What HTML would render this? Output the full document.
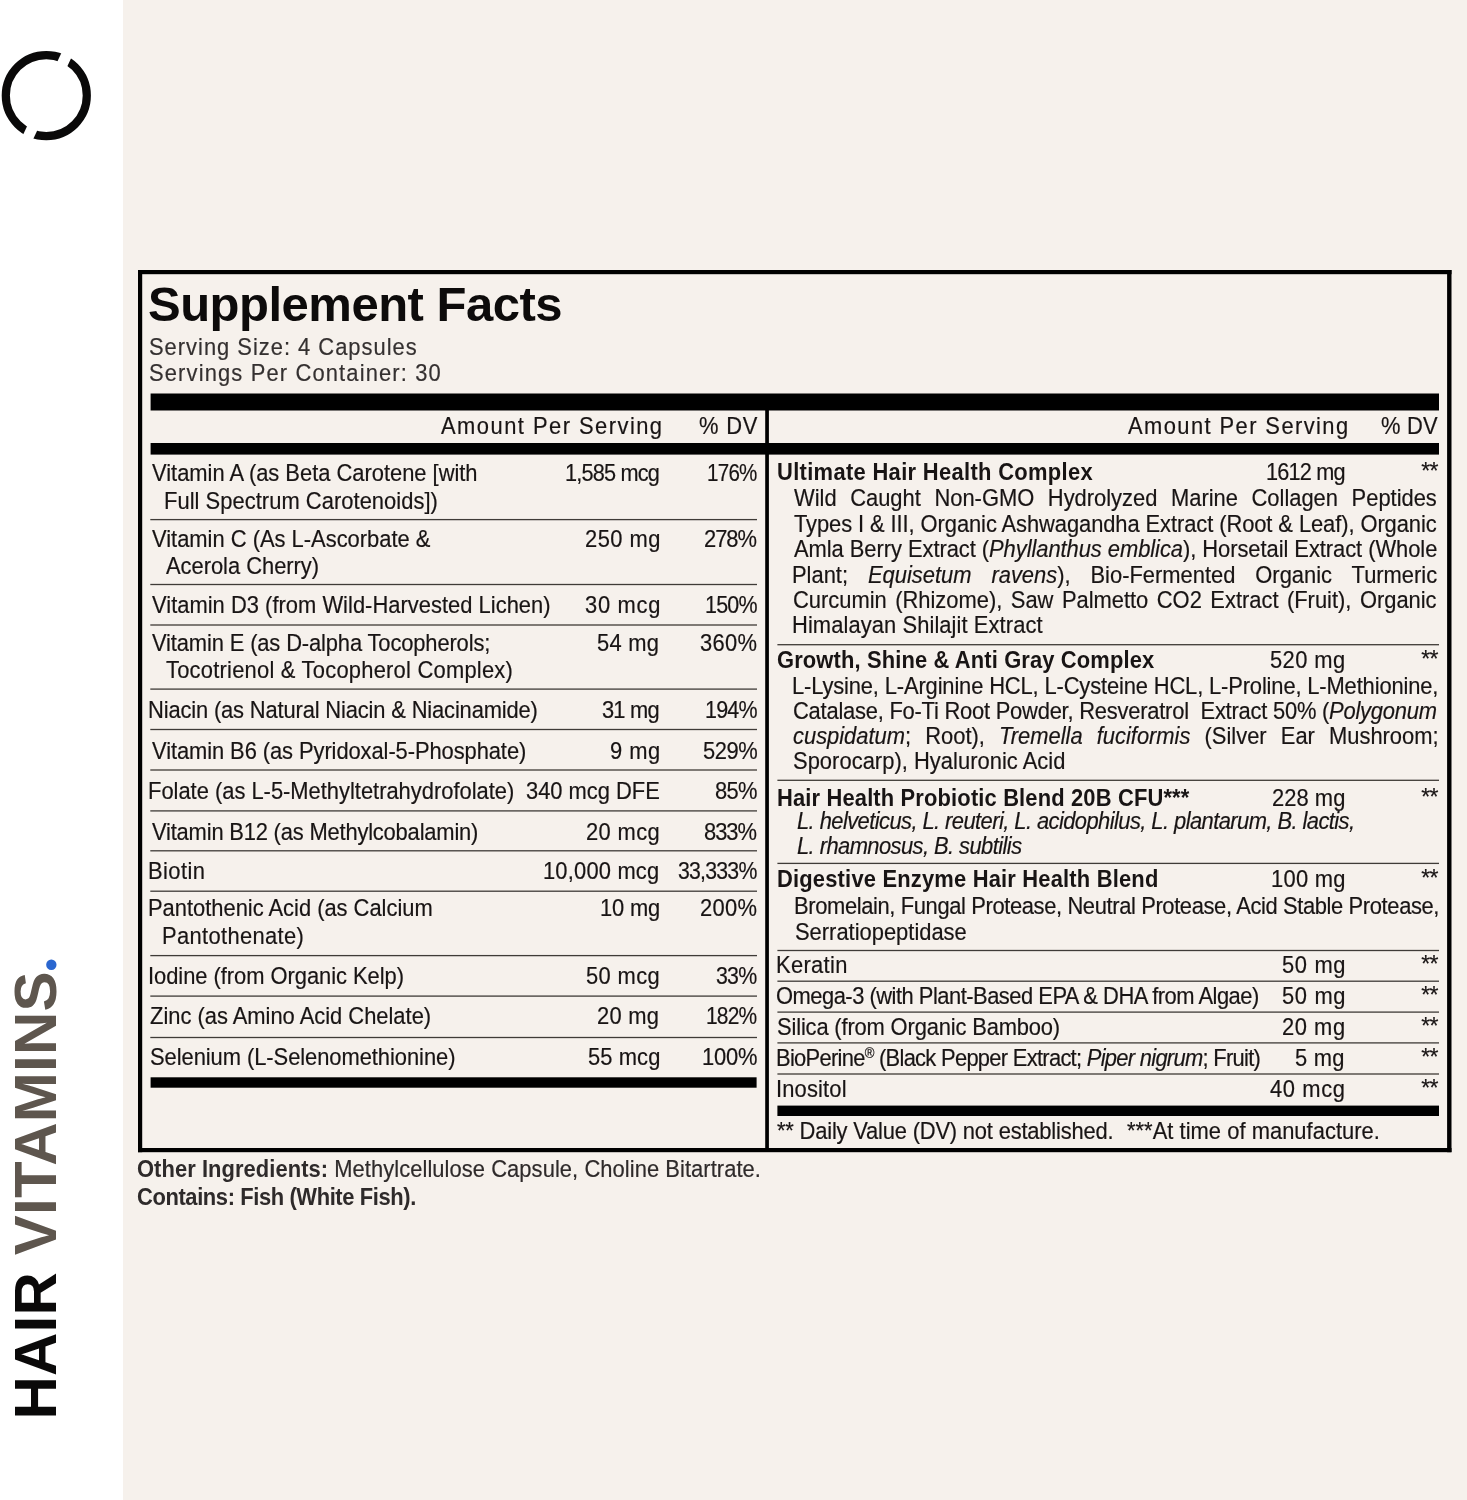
<!DOCTYPE html>
<html><head><meta charset="utf-8"><title>Supplement Facts</title>
<style>
html,body{margin:0;padding:0}
body{width:1467px;height:1500px;position:relative;overflow:hidden;background:#f6f1ec;}
.side{position:absolute;left:0;top:0;width:123px;height:1500px;background:#fff}
.t{position:absolute;white-space:nowrap}
.r{position:absolute}
.layer{position:absolute;left:0;top:0;width:1467px;height:1500px;will-change:transform}
.vt{position:absolute;left:0;top:0;font:700 60px/1 'Liberation Sans', Arial, sans-serif;color:#0a0909;white-space:nowrap;transform-origin:0 0;
 transform:translate(5.5px,1419.5px) rotate(-90deg);letter-spacing:0.2px}
i{font-style:italic}
b{font-weight:700;-webkit-text-stroke-width:0}
</style></head><body>
<div class="side"></div>
<svg class="r" style="left:0;top:49px" width="94" height="94" viewBox="0 0 94 94">
<circle cx="46.3" cy="46.6" r="40.5" fill="none" stroke="#0a0909" stroke-width="8.2"/>
<rect x="41.9" y="-5" width="11" height="104" fill="#fff" transform="rotate(25.1 47.4 46.8)"/>
</svg><div class="vt">HAIR <span style="color:#5e564e">VITAMINS</span><span style="color:#2a66cf;font-family:'Liberation Serif',serif;font-size:64px;line-height:0;margin-left:-1.5px">.</span></div>

<svg class="r" style="left:0;top:0" width="1467" height="1500" viewBox="0 0 1467 1500"><rect x="138" y="270" width="1313.5" height="4.2" fill="#000"/><rect x="138" y="1148" width="1313.5" height="4.2" fill="#000"/><rect x="138" y="270" width="4.2" height="882.2" fill="#000"/><rect x="1447.1" y="270" width="4.4" height="882.2" fill="#000"/><rect x="150.6" y="393.5" width="1288.4" height="17.0" fill="#000"/><rect x="150.6" y="443" width="1288.4" height="11.6" fill="#000"/><rect x="765.2" y="410" width="3.7" height="738" fill="#000"/><rect x="150.6" y="1077.3" width="606.0" height="10.4" fill="#000"/><rect x="777.4" y="1105.6" width="661.6" height="10.4" fill="#000"/><rect x="150.3" y="518.95" width="606.7" height="1.3" fill="#3f3b37"/><rect x="150.3" y="583.85" width="606.7" height="1.3" fill="#3f3b37"/><rect x="150.3" y="624.35" width="606.7" height="1.3" fill="#3f3b37"/><rect x="150.3" y="688.45" width="606.7" height="1.3" fill="#3f3b37"/><rect x="150.3" y="728.85" width="606.7" height="1.3" fill="#3f3b37"/><rect x="150.3" y="769.35" width="606.7" height="1.3" fill="#3f3b37"/><rect x="150.3" y="810.25" width="606.7" height="1.3" fill="#3f3b37"/><rect x="150.3" y="850.15" width="606.7" height="1.3" fill="#3f3b37"/><rect x="150.3" y="890.55" width="606.7" height="1.3" fill="#3f3b37"/><rect x="150.3" y="954.95" width="606.7" height="1.3" fill="#3f3b37"/><rect x="150.3" y="995.45" width="606.7" height="1.3" fill="#3f3b37"/><rect x="150.3" y="1036.85" width="606.7" height="1.3" fill="#3f3b37"/><rect x="777.4" y="644.05" width="661.6" height="1.3" fill="#3f3b37"/><rect x="777.4" y="779.65" width="661.6" height="1.3" fill="#3f3b37"/><rect x="777.4" y="862.75" width="661.6" height="1.3" fill="#3f3b37"/><rect x="777.4" y="949.85" width="661.6" height="1.3" fill="#3f3b37"/><rect x="777.4" y="980.55" width="661.6" height="1.3" fill="#3f3b37"/><rect x="777.4" y="1011.45" width="661.6" height="1.3" fill="#3f3b37"/><rect x="777.4" y="1042.25" width="661.6" height="1.3" fill="#3f3b37"/><rect x="777.4" y="1073.35" width="661.6" height="1.3" fill="#3f3b37"/></svg>
<div class="layer">
<div class="t" style="left:148.00px;top:280px;font:normal 700 49px/1 'Liberation Sans', Arial, sans-serif;color:#0d0b0b;letter-spacing:-0.500px;">Supplement Facts</div>
<div class="t" style="left:149.10px;top:335px;font:normal 400 24.5px/1 'Liberation Sans', Arial, sans-serif;color:#343030;-webkit-text-stroke-width:0.2px;letter-spacing:1.100px;transform:scaleX(0.8950);transform-origin:0 0;">Serving Size: 4 Capsules</div>
<div class="t" style="left:149.10px;top:361px;font:normal 400 24.5px/1 'Liberation Sans', Arial, sans-serif;color:#343030;-webkit-text-stroke-width:0.2px;letter-spacing:1.274px;transform:scaleX(0.8950);transform-origin:0 0;">Servings Per Container: 30</div>
<div class="t" style="left:440.90px;top:414px;font:normal 400 24.5px/1 'Liberation Sans', Arial, sans-serif;color:#181414;-webkit-text-stroke-width:0.2px;letter-spacing:1.633px;transform:scaleX(0.8950);transform-origin:0 0;">Amount Per Serving</div>
<div class="t" style="left:699.00px;top:414px;font:normal 400 24.5px/1 'Liberation Sans', Arial, sans-serif;color:#181414;-webkit-text-stroke-width:0.2px;letter-spacing:0.900px;transform:scaleX(0.8950);transform-origin:0 0;">% DV</div>
<div class="t" style="left:1128.00px;top:414px;font:normal 400 24.5px/1 'Liberation Sans', Arial, sans-serif;color:#181414;-webkit-text-stroke-width:0.2px;letter-spacing:1.573px;transform:scaleX(0.8950);transform-origin:0 0;">Amount Per Serving</div>
<div class="t" style="left:1380.50px;top:414px;font:normal 400 24.5px/1 'Liberation Sans', Arial, sans-serif;color:#181414;-webkit-text-stroke-width:0.2px;letter-spacing:0.200px;transform:scaleX(0.8950);transform-origin:0 0;">% DV</div>
<div class="t" style="left:151.60px;top:461px;font:normal 400 24.5px/1 'Liberation Sans', Arial, sans-serif;color:#181414;-webkit-text-stroke-width:0.2px;letter-spacing:-0.024px;transform:scaleX(0.8950);transform-origin:0 0;">Vitamin A (as Beta Carotene [with</div>
<div class="t" style="left:164.10px;top:489px;font:normal 400 24.5px/1 'Liberation Sans', Arial, sans-serif;color:#181414;-webkit-text-stroke-width:0.2px;letter-spacing:0.039px;transform:scaleX(0.8950);transform-origin:0 0;">Full Spectrum Carotenoids])</div>
<div class="t" style="left:151.60px;top:527px;font:normal 400 24.5px/1 'Liberation Sans', Arial, sans-serif;color:#181414;-webkit-text-stroke-width:0.2px;letter-spacing:-0.009px;transform:scaleX(0.8950);transform-origin:0 0;">Vitamin C (As L-Ascorbate &amp;</div>
<div class="t" style="left:166.10px;top:554px;font:normal 400 24.5px/1 'Liberation Sans', Arial, sans-serif;color:#181414;-webkit-text-stroke-width:0.2px;letter-spacing:-0.038px;transform:scaleX(0.8950);transform-origin:0 0;">Acerola Cherry)</div>
<div class="t" style="left:151.60px;top:593px;font:normal 400 24.5px/1 'Liberation Sans', Arial, sans-serif;color:#181414;-webkit-text-stroke-width:0.2px;letter-spacing:0.015px;transform:scaleX(0.8950);transform-origin:0 0;">Vitamin D3 (from Wild-Harvested Lichen)</div>
<div class="t" style="left:151.60px;top:631px;font:normal 400 24.5px/1 'Liberation Sans', Arial, sans-serif;color:#181414;-webkit-text-stroke-width:0.2px;letter-spacing:-0.155px;transform:scaleX(0.8950);transform-origin:0 0;">Vitamin E (as D-alpha Tocopherols;</div>
<div class="t" style="left:166.10px;top:658px;font:normal 400 24.5px/1 'Liberation Sans', Arial, sans-serif;color:#181414;-webkit-text-stroke-width:0.2px;letter-spacing:0.252px;transform:scaleX(0.8950);transform-origin:0 0;">Tocotrienol &amp; Tocopherol Complex)</div>
<div class="t" style="left:148.10px;top:698px;font:normal 400 24.5px/1 'Liberation Sans', Arial, sans-serif;color:#181414;-webkit-text-stroke-width:0.2px;letter-spacing:-0.177px;transform:scaleX(0.8950);transform-origin:0 0;">Niacin (as Natural Niacin &amp; Niacinamide)</div>
<div class="t" style="left:151.60px;top:739px;font:normal 400 24.5px/1 'Liberation Sans', Arial, sans-serif;color:#181414;-webkit-text-stroke-width:0.2px;letter-spacing:-0.097px;transform:scaleX(0.8950);transform-origin:0 0;">Vitamin B6 (as Pyridoxal-5-Phosphate)</div>
<div class="t" style="left:148.10px;top:779px;font:normal 400 24.5px/1 'Liberation Sans', Arial, sans-serif;color:#181414;-webkit-text-stroke-width:0.2px;letter-spacing:-0.018px;transform:scaleX(0.8950);transform-origin:0 0;">Folate (as L-5-Methyltetrahydrofolate)</div>
<div class="t" style="left:151.60px;top:820px;font:normal 400 24.5px/1 'Liberation Sans', Arial, sans-serif;color:#181414;-webkit-text-stroke-width:0.2px;letter-spacing:-0.214px;transform:scaleX(0.8950);transform-origin:0 0;">Vitamin B12 (as Methylcobalamin)</div>
<div class="t" style="left:148.10px;top:859px;font:normal 400 24.5px/1 'Liberation Sans', Arial, sans-serif;color:#181414;-webkit-text-stroke-width:0.2px;letter-spacing:0.475px;transform:scaleX(0.8950);transform-origin:0 0;">Biotin</div>
<div class="t" style="left:148.10px;top:896px;font:normal 400 24.5px/1 'Liberation Sans', Arial, sans-serif;color:#181414;-webkit-text-stroke-width:0.2px;letter-spacing:-0.021px;transform:scaleX(0.8950);transform-origin:0 0;">Pantothenic Acid (as Calcium</div>
<div class="t" style="left:161.90px;top:924px;font:normal 400 24.5px/1 'Liberation Sans', Arial, sans-serif;color:#181414;-webkit-text-stroke-width:0.2px;letter-spacing:0.373px;transform:scaleX(0.8950);transform-origin:0 0;">Pantothenate)</div>
<div class="t" style="left:148.10px;top:964px;font:normal 400 24.5px/1 'Liberation Sans', Arial, sans-serif;color:#181414;-webkit-text-stroke-width:0.2px;letter-spacing:-0.050px;transform:scaleX(0.8950);transform-origin:0 0;">Iodine (from Organic Kelp)</div>
<div class="t" style="left:149.50px;top:1004px;font:normal 400 24.5px/1 'Liberation Sans', Arial, sans-serif;color:#181414;-webkit-text-stroke-width:0.2px;letter-spacing:-0.017px;transform:scaleX(0.8950);transform-origin:0 0;">Zinc (as Amino Acid Chelate)</div>
<div class="t" style="left:149.50px;top:1045px;font:normal 400 24.5px/1 'Liberation Sans', Arial, sans-serif;color:#181414;-webkit-text-stroke-width:0.2px;letter-spacing:-0.068px;transform:scaleX(0.8950);transform-origin:0 0;">Selenium (L-Selenomethionine)</div>
<div class="t" style="left:564.50px;top:461px;font:normal 400 24.5px/1 'Liberation Sans', Arial, sans-serif;color:#181414;-webkit-text-stroke-width:0.2px;letter-spacing:-0.900px;transform:scaleX(0.8853);transform-origin:0 0;">1,585 mcg</div>
<div class="t" style="left:584.70px;top:527px;font:normal 400 24.5px/1 'Liberation Sans', Arial, sans-serif;color:#181414;-webkit-text-stroke-width:0.2px;letter-spacing:0.525px;transform:scaleX(0.8950);transform-origin:0 0;">250 mg</div>
<div class="t" style="left:584.70px;top:593px;font:normal 400 24.5px/1 'Liberation Sans', Arial, sans-serif;color:#181414;-webkit-text-stroke-width:0.2px;letter-spacing:0.775px;transform:scaleX(0.8950);transform-origin:0 0;">30 mcg</div>
<div class="t" style="left:597.10px;top:631px;font:normal 400 24.5px/1 'Liberation Sans', Arial, sans-serif;color:#181414;-webkit-text-stroke-width:0.2px;letter-spacing:0.300px;transform:scaleX(0.8950);transform-origin:0 0;">54 mg</div>
<div class="t" style="left:602.00px;top:698px;font:normal 400 24.5px/1 'Liberation Sans', Arial, sans-serif;color:#181414;-webkit-text-stroke-width:0.2px;letter-spacing:-0.900px;transform:scaleX(0.8938);transform-origin:0 0;">31 mg</div>
<div class="t" style="left:609.90px;top:739px;font:normal 400 24.5px/1 'Liberation Sans', Arial, sans-serif;color:#181414;-webkit-text-stroke-width:0.2px;letter-spacing:0.500px;transform:scaleX(0.8950);transform-origin:0 0;">9 mg</div>
<div class="t" style="left:526.20px;top:779px;font:normal 400 24.5px/1 'Liberation Sans', Arial, sans-serif;color:#181414;-webkit-text-stroke-width:0.2px;letter-spacing:-0.022px;transform:scaleX(0.8950);transform-origin:0 0;">340 mcg DFE</div>
<div class="t" style="left:585.50px;top:820px;font:normal 400 24.5px/1 'Liberation Sans', Arial, sans-serif;color:#181414;-webkit-text-stroke-width:0.2px;letter-spacing:0.425px;transform:scaleX(0.8950);transform-origin:0 0;">20 mcg</div>
<div class="t" style="left:543.20px;top:859px;font:normal 400 24.5px/1 'Liberation Sans', Arial, sans-serif;color:#181414;-webkit-text-stroke-width:0.2px;letter-spacing:0.200px;transform:scaleX(0.8950);transform-origin:0 0;">10,000 mcg</div>
<div class="t" style="left:599.60px;top:896px;font:normal 400 24.5px/1 'Liberation Sans', Arial, sans-serif;color:#181414;-webkit-text-stroke-width:0.2px;letter-spacing:-0.200px;transform:scaleX(0.8950);transform-origin:0 0;">10 mg</div>
<div class="t" style="left:585.50px;top:964px;font:normal 400 24.5px/1 'Liberation Sans', Arial, sans-serif;color:#181414;-webkit-text-stroke-width:0.2px;letter-spacing:0.425px;transform:scaleX(0.8950);transform-origin:0 0;">50 mcg</div>
<div class="t" style="left:597.10px;top:1004px;font:normal 400 24.5px/1 'Liberation Sans', Arial, sans-serif;color:#181414;-webkit-text-stroke-width:0.2px;letter-spacing:0.300px;transform:scaleX(0.8950);transform-origin:0 0;">20 mg</div>
<div class="t" style="left:587.60px;top:1045px;font:normal 400 24.5px/1 'Liberation Sans', Arial, sans-serif;color:#181414;-webkit-text-stroke-width:0.2px;letter-spacing:0.100px;transform:scaleX(0.8950);transform-origin:0 0;">55 mcg</div>
<div class="t" style="left:707.00px;top:461px;font:normal 400 24.5px/1 'Liberation Sans', Arial, sans-serif;color:#181414;-webkit-text-stroke-width:0.2px;letter-spacing:-0.900px;transform:scaleX(0.8399);transform-origin:0 0;">176%</div>
<div class="t" style="left:703.90px;top:527px;font:normal 400 24.5px/1 'Liberation Sans', Arial, sans-serif;color:#181414;-webkit-text-stroke-width:0.2px;letter-spacing:-1.167px;transform:scaleX(0.8950);transform-origin:0 0;">278%</div>
<div class="t" style="left:705.00px;top:593px;font:normal 400 24.5px/1 'Liberation Sans', Arial, sans-serif;color:#181414;-webkit-text-stroke-width:0.2px;letter-spacing:-0.900px;transform:scaleX(0.8755);transform-origin:0 0;">150%</div>
<div class="t" style="left:700.40px;top:631px;font:normal 400 24.5px/1 'Liberation Sans', Arial, sans-serif;color:#181414;-webkit-text-stroke-width:0.2px;letter-spacing:0.333px;transform:scaleX(0.8950);transform-origin:0 0;">360%</div>
<div class="t" style="left:705.00px;top:698px;font:normal 400 24.5px/1 'Liberation Sans', Arial, sans-serif;color:#181414;-webkit-text-stroke-width:0.2px;letter-spacing:-0.900px;transform:scaleX(0.8755);transform-origin:0 0;">194%</div>
<div class="t" style="left:702.90px;top:739px;font:normal 400 24.5px/1 'Liberation Sans', Arial, sans-serif;color:#181414;-webkit-text-stroke-width:0.2px;letter-spacing:-0.500px;transform:scaleX(0.8950);transform-origin:0 0;">529%</div>
<div class="t" style="left:714.90px;top:779px;font:normal 400 24.5px/1 'Liberation Sans', Arial, sans-serif;color:#181414;-webkit-text-stroke-width:0.2px;letter-spacing:-0.750px;transform:scaleX(0.8950);transform-origin:0 0;">85%</div>
<div class="t" style="left:703.90px;top:820px;font:normal 400 24.5px/1 'Liberation Sans', Arial, sans-serif;color:#181414;-webkit-text-stroke-width:0.2px;letter-spacing:-1.167px;transform:scaleX(0.8950);transform-origin:0 0;">833%</div>
<div class="t" style="left:677.70px;top:859px;font:normal 400 24.5px/1 'Liberation Sans', Arial, sans-serif;color:#181414;-webkit-text-stroke-width:0.2px;letter-spacing:-0.900px;transform:scaleX(0.8684);transform-origin:0 0;">33,333%</div>
<div class="t" style="left:700.40px;top:896px;font:normal 400 24.5px/1 'Liberation Sans', Arial, sans-serif;color:#181414;-webkit-text-stroke-width:0.2px;letter-spacing:0.333px;transform:scaleX(0.8950);transform-origin:0 0;">200%</div>
<div class="t" style="left:715.70px;top:964px;font:normal 400 24.5px/1 'Liberation Sans', Arial, sans-serif;color:#181414;-webkit-text-stroke-width:0.2px;letter-spacing:-0.900px;transform:scaleX(0.8707);transform-origin:0 0;">33%</div>
<div class="t" style="left:706.40px;top:1004px;font:normal 400 24.5px/1 'Liberation Sans', Arial, sans-serif;color:#181414;-webkit-text-stroke-width:0.2px;letter-spacing:-0.900px;transform:scaleX(0.8541);transform-origin:0 0;">182%</div>
<div class="t" style="left:702.30px;top:1045px;font:normal 400 24.5px/1 'Liberation Sans', Arial, sans-serif;color:#181414;-webkit-text-stroke-width:0.2px;letter-spacing:-0.233px;transform:scaleX(0.8950);transform-origin:0 0;">100%</div>
<div class="t" style="left:776.70px;top:460px;font:normal 700 24.5px/1 'Liberation Sans', Arial, sans-serif;color:#181414;letter-spacing:0.356px;transform:scaleX(0.8950);transform-origin:0 0;">Ultimate Hair Health Complex</div>
<div class="t" style="left:794.40px;top:486px;font:normal 400 24.5px/1 'Liberation Sans', Arial, sans-serif;color:#181414;-webkit-text-stroke-width:0.2px;letter-spacing:-0.017px;word-spacing:8.427px;transform:scaleX(0.8950);transform-origin:0 0;">Wild Caught Non-GMO Hydrolyzed Marine Collagen Peptides</div>
<div class="t" style="left:794.40px;top:512px;font:normal 400 24.5px/1 'Liberation Sans', Arial, sans-serif;color:#181414;-webkit-text-stroke-width:0.2px;letter-spacing:-0.100px;transform:scaleX(0.8950);transform-origin:0 0;">Types I &amp; III, Organic Ashwagandha Extract (Root &amp; Leaf), Organic</div>
<div class="t" style="left:794.40px;top:537px;font:normal 400 24.5px/1 'Liberation Sans', Arial, sans-serif;color:#181414;-webkit-text-stroke-width:0.2px;letter-spacing:-0.064px;transform:scaleX(0.8950);transform-origin:0 0;">Amla Berry Extract (<i>Phyllanthus emblica</i>), Horsetail Extract (Whole</div>
<div class="t" style="left:792.40px;top:563px;font:normal 400 24.5px/1 'Liberation Sans', Arial, sans-serif;color:#181414;-webkit-text-stroke-width:0.2px;letter-spacing:-0.017px;word-spacing:15.538px;transform:scaleX(0.8950);transform-origin:0 0;">Plant; <i>Equisetum ravens</i>), Bio-Fermented Organic Turmeric</div>
<div class="t" style="left:793.40px;top:588px;font:normal 400 24.5px/1 'Liberation Sans', Arial, sans-serif;color:#181414;-webkit-text-stroke-width:0.2px;letter-spacing:-0.017px;word-spacing:2.707px;transform:scaleX(0.8950);transform-origin:0 0;">Curcumin (Rhizome), Saw Palmetto CO2 Extract (Fruit), Organic</div>
<div class="t" style="left:792.40px;top:613px;font:normal 400 24.5px/1 'Liberation Sans', Arial, sans-serif;color:#181414;-webkit-text-stroke-width:0.2px;letter-spacing:0.087px;transform:scaleX(0.8950);transform-origin:0 0;">Himalayan Shilajit Extract</div>
<div class="t" style="left:776.70px;top:648px;font:normal 700 24.5px/1 'Liberation Sans', Arial, sans-serif;color:#181414;letter-spacing:0.139px;transform:scaleX(0.8950);transform-origin:0 0;">Growth, Shine &amp; Anti Gray Complex</div>
<div class="t" style="left:792.40px;top:674px;font:normal 400 24.5px/1 'Liberation Sans', Arial, sans-serif;color:#181414;-webkit-text-stroke-width:0.2px;letter-spacing:-0.167px;transform:scaleX(0.8950);transform-origin:0 0;">L-Lysine, L-Arginine HCL, L-Cysteine HCL, L-Proline, L-Methionine,</div>
<div class="t" style="left:793.40px;top:699px;font:normal 400 24.5px/1 'Liberation Sans', Arial, sans-serif;color:#181414;-webkit-text-stroke-width:0.2px;letter-spacing:-0.258px;transform:scaleX(0.8950);transform-origin:0 0;">Catalase, Fo-Ti Root Powder, Resveratrol&nbsp; Extract 50% (<i>Polygonum</i></div>
<div class="t" style="left:793.40px;top:724px;font:normal 400 24.5px/1 'Liberation Sans', Arial, sans-serif;color:#181414;-webkit-text-stroke-width:0.2px;letter-spacing:-0.017px;word-spacing:9.044px;transform:scaleX(0.8950);transform-origin:0 0;"><i>cuspidatum</i>; Root), <i>Tremella fuciformis</i> (Silver Ear Mushroom;</div>
<div class="t" style="left:793.40px;top:749px;font:normal 400 24.5px/1 'Liberation Sans', Arial, sans-serif;color:#181414;-webkit-text-stroke-width:0.2px;letter-spacing:0.029px;transform:scaleX(0.8950);transform-origin:0 0;">Sporocarp), Hyaluronic Acid</div>
<div class="t" style="left:776.70px;top:786px;font:normal 700 24.5px/1 'Liberation Sans', Arial, sans-serif;color:#181414;letter-spacing:0.161px;transform:scaleX(0.8950);transform-origin:0 0;">Hair Health Probiotic Blend 20B CFU***</div>
<div class="t" style="left:797.00px;top:809px;font:normal 400 24.5px/1 'Liberation Sans', Arial, sans-serif;color:#181414;-webkit-text-stroke-width:0.2px;letter-spacing:-0.642px;transform:scaleX(0.8950);transform-origin:0 0;"><i>L. helveticus, L. reuteri, L. acidophilus, L. plantarum, B. lactis,</i></div>
<div class="t" style="left:797.00px;top:834px;font:normal 400 24.5px/1 'Liberation Sans', Arial, sans-serif;color:#181414;-webkit-text-stroke-width:0.2px;letter-spacing:-0.641px;transform:scaleX(0.8950);transform-origin:0 0;"><i>L. rhamnosus, B. subtilis</i></div>
<div class="t" style="left:776.70px;top:867px;font:normal 700 24.5px/1 'Liberation Sans', Arial, sans-serif;color:#181414;letter-spacing:0.203px;transform:scaleX(0.8950);transform-origin:0 0;">Digestive Enzyme Hair Health Blend</div>
<div class="t" style="left:793.60px;top:894px;font:normal 400 24.5px/1 'Liberation Sans', Arial, sans-serif;color:#181414;-webkit-text-stroke-width:0.2px;letter-spacing:-0.422px;transform:scaleX(0.8950);transform-origin:0 0;">Bromelain, Fungal Protease, Neutral Protease, Acid Stable Protease,</div>
<div class="t" style="left:794.60px;top:920px;font:normal 400 24.5px/1 'Liberation Sans', Arial, sans-serif;color:#181414;-webkit-text-stroke-width:0.2px;letter-spacing:-0.007px;transform:scaleX(0.8950);transform-origin:0 0;">Serratiopeptidase</div>
<div class="t" style="left:775.70px;top:953px;font:normal 400 24.5px/1 'Liberation Sans', Arial, sans-serif;color:#181414;-webkit-text-stroke-width:0.2px;letter-spacing:0.350px;transform:scaleX(0.8950);transform-origin:0 0;">Keratin</div>
<div class="t" style="left:776.00px;top:984px;font:normal 400 24.5px/1 'Liberation Sans', Arial, sans-serif;color:#181414;-webkit-text-stroke-width:0.2px;letter-spacing:-0.566px;transform:scaleX(0.8950);transform-origin:0 0;">Omega-3 (with Plant-Based EPA &amp; DHA from Algae)</div>
<div class="t" style="left:776.70px;top:1015px;font:normal 400 24.5px/1 'Liberation Sans', Arial, sans-serif;color:#181414;-webkit-text-stroke-width:0.2px;letter-spacing:-0.183px;transform:scaleX(0.8950);transform-origin:0 0;">Silica (from Organic Bamboo)</div>
<div class="t" style="left:775.70px;top:1046px;font:normal 400 24.5px/1 'Liberation Sans', Arial, sans-serif;color:#181414;-webkit-text-stroke-width:0.2px;letter-spacing:-0.800px;transform:scaleX(0.8950);transform-origin:0 0;">BioPerine<span style="font-size:0.6em;vertical-align:0.55em">®</span> (Black Pepper Extract; <i>Piper nigrum</i>; Fruit)</div>
<div class="t" style="left:775.70px;top:1077px;font:normal 400 24.5px/1 'Liberation Sans', Arial, sans-serif;color:#181414;-webkit-text-stroke-width:0.2px;letter-spacing:0.167px;transform:scaleX(0.8950);transform-origin:0 0;">Inositol</div>
<div class="t" style="left:1266.10px;top:460px;font:normal 400 24.5px/1 'Liberation Sans', Arial, sans-serif;color:#181414;-webkit-text-stroke-width:0.2px;letter-spacing:-0.900px;transform:scaleX(0.8859);transform-origin:0 0;">1612 mg</div>
<div class="t" style="left:1270.40px;top:648px;font:normal 400 24.5px/1 'Liberation Sans', Arial, sans-serif;color:#181414;-webkit-text-stroke-width:0.2px;letter-spacing:0.450px;transform:scaleX(0.8950);transform-origin:0 0;">520 mg</div>
<div class="t" style="left:1271.60px;top:786px;font:normal 400 24.5px/1 'Liberation Sans', Arial, sans-serif;color:#181414;-webkit-text-stroke-width:0.2px;letter-spacing:0.050px;transform:scaleX(0.8950);transform-origin:0 0;">228 mg</div>
<div class="t" style="left:1270.60px;top:867px;font:normal 400 24.5px/1 'Liberation Sans', Arial, sans-serif;color:#181414;-webkit-text-stroke-width:0.2px;letter-spacing:0.300px;transform:scaleX(0.8950);transform-origin:0 0;">100 mg</div>
<div class="t" style="left:1281.60px;top:953px;font:normal 400 24.5px/1 'Liberation Sans', Arial, sans-serif;color:#181414;-webkit-text-stroke-width:0.2px;letter-spacing:0.733px;transform:scaleX(0.8950);transform-origin:0 0;">50 mg</div>
<div class="t" style="left:1281.60px;top:984px;font:normal 400 24.5px/1 'Liberation Sans', Arial, sans-serif;color:#181414;-webkit-text-stroke-width:0.2px;letter-spacing:0.733px;transform:scaleX(0.8950);transform-origin:0 0;">50 mg</div>
<div class="t" style="left:1282.40px;top:1015px;font:normal 400 24.5px/1 'Liberation Sans', Arial, sans-serif;color:#181414;-webkit-text-stroke-width:0.2px;letter-spacing:0.600px;transform:scaleX(0.8950);transform-origin:0 0;">20 mg</div>
<div class="t" style="left:1295.40px;top:1046px;font:normal 400 24.5px/1 'Liberation Sans', Arial, sans-serif;color:#181414;-webkit-text-stroke-width:0.2px;letter-spacing:0.267px;transform:scaleX(0.8950);transform-origin:0 0;">5 mg</div>
<div class="t" style="left:1270.10px;top:1077px;font:normal 400 24.5px/1 'Liberation Sans', Arial, sans-serif;color:#181414;-webkit-text-stroke-width:0.2px;letter-spacing:0.675px;transform:scaleX(0.8950);transform-origin:0 0;">40 mcg</div>
<div class="t" style="left:777.40px;top:1119px;font:normal 400 24.5px/1 'Liberation Sans', Arial, sans-serif;color:#181414;-webkit-text-stroke-width:0.2px;letter-spacing:-0.216px;transform:scaleX(0.8950);transform-origin:0 0;">** Daily Value (DV) not established.</div>
<div class="t" style="left:1126.50px;top:1119px;font:normal 400 24.5px/1 'Liberation Sans', Arial, sans-serif;color:#181414;-webkit-text-stroke-width:0.2px;letter-spacing:0.026px;transform:scaleX(0.8950);transform-origin:0 0;">***At time of manufacture.</div>
<div class="t" style="left:137.40px;top:1157px;font:normal 400 24.5px/1 'Liberation Sans', Arial, sans-serif;color:#2e2a2a;-webkit-text-stroke-width:0.2px;letter-spacing:0.066px;transform:scaleX(0.8950);transform-origin:0 0;"><b>Other Ingredients:</b> Methylcellulose Capsule, Choline Bitartrate.</div>
<div class="t" style="left:137.40px;top:1185px;font:normal 400 24.5px/1 'Liberation Sans', Arial, sans-serif;color:#2e2a2a;-webkit-text-stroke-width:0.2px;letter-spacing:-0.440px;transform:scaleX(0.8950);transform-origin:0 0;"><b>Contains: Fish (White Fish).</b></div>
<div class="t" style="left:1421.20px;top:460px;font:normal 400 23px/1 'Liberation Sans', Arial, sans-serif;color:#181414;-webkit-text-stroke-width:0.2px;letter-spacing:-0.600px;">**</div>
<div class="t" style="left:1421.20px;top:648px;font:normal 400 23px/1 'Liberation Sans', Arial, sans-serif;color:#181414;-webkit-text-stroke-width:0.2px;letter-spacing:-0.600px;">**</div>
<div class="t" style="left:1421.20px;top:786px;font:normal 400 23px/1 'Liberation Sans', Arial, sans-serif;color:#181414;-webkit-text-stroke-width:0.2px;letter-spacing:-0.600px;">**</div>
<div class="t" style="left:1421.20px;top:867px;font:normal 400 23px/1 'Liberation Sans', Arial, sans-serif;color:#181414;-webkit-text-stroke-width:0.2px;letter-spacing:-0.600px;">**</div>
<div class="t" style="left:1421.20px;top:953px;font:normal 400 23px/1 'Liberation Sans', Arial, sans-serif;color:#181414;-webkit-text-stroke-width:0.2px;letter-spacing:-0.600px;">**</div>
<div class="t" style="left:1421.20px;top:984px;font:normal 400 23px/1 'Liberation Sans', Arial, sans-serif;color:#181414;-webkit-text-stroke-width:0.2px;letter-spacing:-0.600px;">**</div>
<div class="t" style="left:1421.20px;top:1015px;font:normal 400 23px/1 'Liberation Sans', Arial, sans-serif;color:#181414;-webkit-text-stroke-width:0.2px;letter-spacing:-0.600px;">**</div>
<div class="t" style="left:1421.20px;top:1046px;font:normal 400 23px/1 'Liberation Sans', Arial, sans-serif;color:#181414;-webkit-text-stroke-width:0.2px;letter-spacing:-0.600px;">**</div>
<div class="t" style="left:1421.20px;top:1077px;font:normal 400 23px/1 'Liberation Sans', Arial, sans-serif;color:#181414;-webkit-text-stroke-width:0.2px;letter-spacing:-0.600px;">**</div>
</div>
</body></html>
